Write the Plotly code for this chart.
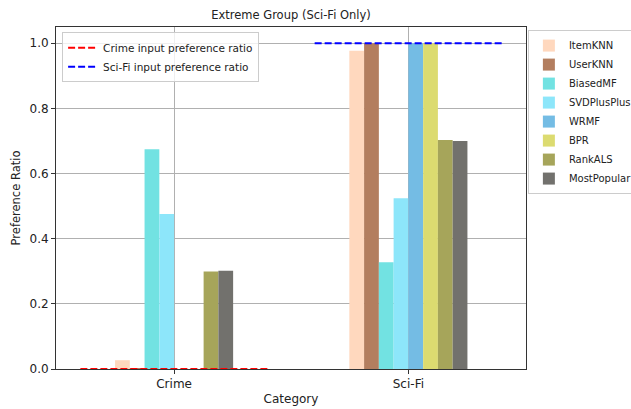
import plotly.graph_objects as go

categories = ["Crime", "Sci-Fi"]
models = ["ItemKNN", "UserKNN", "BiasedMF", "SVDPlusPlus", "WRMF", "BPR", "RankALS", "MostPopular"]
crime_values = [0.027, 0.002, 0.675, 0.476, 0.0, 0.0, 0.299, 0.302]
scifi_values = [0.977, 1.0, 0.328, 0.524, 1.0, 1.0, 0.703, 0.700]
colors = ["#FFD8BE", "#B37E5F", "#72E2E2", "#8DE6FA", "#74BCE4", "#DCDB70", "#A6A55A", "#72716D"]
input_ratio_names = ["Crime input preference ratio", "Sci-Fi input preference ratio"]
input_ratios = [0.0, 1.0]
input_colors = ["red", "blue"]

cat_pos = list(range(len(categories)))
half = 0.4

W, H = 631, 409
fig = go.Figure()
for i, m in enumerate(models):
    fig.add_trace(go.Bar(
        x=cat_pos, y=[crime_values[i], scifi_values[i]], name=m,
        marker=dict(color=colors[i], line=dict(width=0)),
        legend="legend",
    ))

for j, nm in enumerate(input_ratio_names):
    fig.add_trace(go.Scatter(
        x=[cat_pos[j] - half, cat_pos[j] + half], y=[input_ratios[j]] * 2,
        mode="lines", name=nm,
        line=dict(color=input_colors[j], width=2, dash="7px,3px"),
        legend="legend2",
    ))

fig.update_layout(
    width=W, height=H,
    margin=dict(l=56, r=105, t=27, b=40, autoexpand=False),
    paper_bgcolor="white", plot_bgcolor="white",
    font=dict(family="DejaVu Sans", size=12, color="#222"),
    title=dict(text="Extreme Group (Sci-Fi Only)", x=(56 + 526) / 2 / W, xanchor="center",
               yref="container", y=1 - 15 / H, yanchor="middle",
               font=dict(size=11.5)),
    barmode="group", bargap=0.496, bargroupgap=0,
    xaxis=dict(range=[-0.504, 1.502], tickvals=cat_pos, ticktext=categories,
               showgrid=True, gridcolor="#b0b0b0", gridwidth=1,
               showline=True, linecolor="#333", linewidth=1, mirror=True,
               ticks="outside", ticklen=4, tickcolor="#333", zeroline=False,
               automargin=False,
               title=dict(text="Category", standoff=4, font=dict(size=12))),
    yaxis=dict(range=[0, 1.05], tickvals=[0, 0.2, 0.4, 0.6, 0.8, 1.0],
               ticktext=["0.0", "0.2", "0.4", "0.6", "0.8", "1.0"],
               showgrid=True, gridcolor="#b0b0b0", gridwidth=1,
               showline=True, linecolor="#333", linewidth=1, mirror=True,
               ticks="outside", ticklen=4, tickcolor="#333", zeroline=False,
               automargin=False,
               title=dict(text="Preference Ratio", standoff=6, font=dict(size=11.5))),
    legend=dict(x=1.004, y=0.991, xanchor="left", yanchor="top",
                bordercolor="#cccccc", borderwidth=1, bgcolor="white",
                font=dict(size=10), tracegroupgap=0, itemwidth=30),
    legend2=dict(x=0.013, y=0.985, xanchor="left", yanchor="top",
                 bordercolor="#cccccc", borderwidth=1, bgcolor="rgba(255,255,255,0.8)",
                 font=dict(size=10.5), itemwidth=30),
)

fig.write_html("out.html", config={"displayModeBar": False},
               post_script="document.body.style.margin='0';document.body.style.overflow='hidden';")
